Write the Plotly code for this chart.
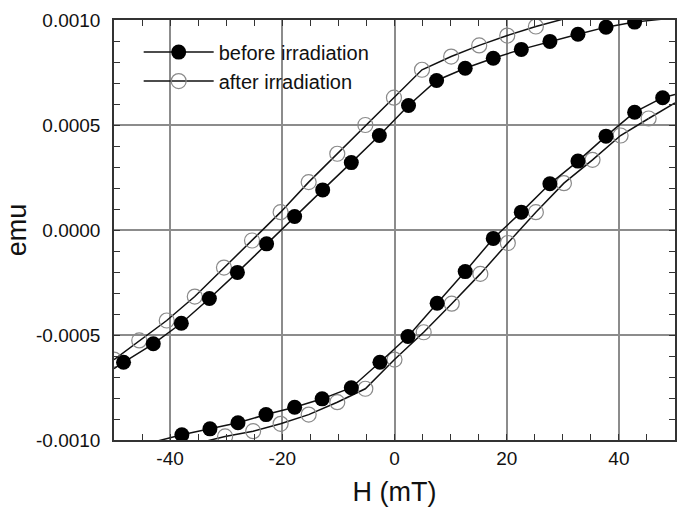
import plotly.graph_objects as go

# ---------------- data ----------------
# H in mT, moment in emu
before_up_x = [-48.3, -43.0, -38.0, -33.0, -28.0, -22.8, -17.8, -12.8, -7.7, -2.7,
               2.5, 7.5, 12.6, 17.6, 22.6, 27.7, 32.7, 37.7, 42.8]
before_up_y = [-6.30e-4, -5.42e-4, -4.44e-4, -3.26e-4, -2.02e-4, -0.66e-4, 0.64e-4, 1.91e-4, 3.21e-4, 4.50e-4,
               5.93e-4, 7.12e-4, 7.70e-4, 8.18e-4, 8.60e-4, 8.98e-4, 9.32e-4, 9.66e-4, 9.90e-4]
before_up_start = [[-50.0], [-6.6e-4]]
before_up_end = [[48.0], [1.005e-3]]

before_low_x = [-37.9, -32.9, -27.9, -22.9, -17.8, -12.9, -7.7, -2.6, 2.4, 7.6,
                12.6, 17.6, 22.6, 27.7, 32.7, 37.7, 42.8, 47.8]
before_low_y = [-9.75e-4, -9.47e-4, -9.18e-4, -8.79e-4, -8.44e-4, -8.04e-4, -7.51e-4, -6.30e-4, -5.07e-4, -3.49e-4,
                -1.98e-4, -0.40e-4, 0.85e-4, 2.20e-4, 3.28e-4, 4.47e-4, 5.61e-4, 6.30e-4]
before_low_start = [[-43.0], [-1.01e-3]]
before_low_end = [[50.0], [6.45e-4]]

after_up_x = [-50.0, -45.5, -40.6, -35.6, -30.4, -25.4, -20.3, -15.3, -10.2, -5.2,
              -0.1, 4.9, 10.1, 15.1, 20.1, 25.2]
after_up_y = [-6.17e-4, -5.26e-4, -4.31e-4, -3.17e-4, -1.79e-4, -0.50e-4, 0.85e-4, 2.28e-4, 3.63e-4, 5.00e-4,
              6.30e-4, 7.63e-4, 8.26e-4, 8.79e-4, 9.26e-4, 9.69e-4]
after_up_start = [[-50.0], [-6.17e-4]]
after_up_end = [[35.0], [1.04e-3]]

after_low_x = [-30.2, -25.2, -20.3, -15.3, -10.2, -5.2, 0.0, 5.2, 10.2, 15.3,
               20.2, 25.2, 30.2, 35.3, 40.3, 45.3]
after_low_y = [-9.83e-4, -9.58e-4, -9.23e-4, -8.79e-4, -8.20e-4, -7.56e-4, -6.17e-4, -4.87e-4, -3.51e-4, -2.09e-4,
               -0.62e-4, 0.85e-4, 2.23e-4, 3.34e-4, 4.50e-4, 5.31e-4]
after_low_start = [[-35.0], [-1.015e-3]]
after_low_end = [[50.0], [6.05e-4]]

x_tickvals = [-40, -20, 0, 20, 40]
x_ticktext = ["-40", "-20", "0", "20", "40"]
y_tickvals = [-0.0010, -0.0005, 0.0, 0.0005, 0.0010]
y_ticktext = ["-0.0010", "-0.0005", "0.0000", "0.0005", "0.0010"]

series_names = ["before irradiation", "after irradiation"]

# ---------------- figure ----------------
FONT = "Liberation Sans, Arial, Helvetica, sans-serif"
LINE = dict(color="#111111", width=1.5)
filled = dict(symbol="circle", size=15, color="#000000", line=dict(width=0))
opened = dict(symbol="circle-open", size=15, color="#8a8a8a", line=dict(width=1.2, color="#8a8a8a"))

fig = go.Figure()


def add_branch(xs, ys, start, end, marker, name, show, rank):
    # line extensions beyond first/last marker
    fig.add_trace(go.Scatter(x=start[0] + [xs[0]], y=start[1] + [ys[0]], mode="lines",
                             line=LINE, showlegend=False, hoverinfo="skip"))
    fig.add_trace(go.Scatter(x=[xs[-1]] + end[0], y=[ys[-1]] + end[1], mode="lines",
                             line=LINE, showlegend=False, hoverinfo="skip"))
    fig.add_trace(go.Scatter(x=xs, y=ys, mode="lines+markers", line=LINE, marker=marker,
                             name=name, legendgroup=name, showlegend=show, legendrank=rank))


add_branch(after_up_x, after_up_y, after_up_start, after_up_end, opened, series_names[1], True, 2)
add_branch(after_low_x, after_low_y, after_low_start, after_low_end, opened, series_names[1], False, 2)
add_branch(before_up_x, before_up_y, before_up_start, before_up_end, filled, series_names[0], True, 1)
add_branch(before_low_x, before_low_y, before_low_start, before_low_end, filled, series_names[0], False, 1)

axis_common = dict(
    showline=True, linecolor="#333333", linewidth=1.5, mirror="ticks",
    ticks="inside", ticklen=6, tickwidth=1.2, tickcolor="#333333",
    showgrid=True, gridcolor="#8c8c8c", gridwidth=1.5, zeroline=False,
    tickfont=dict(family=FONT, size=19, color="#111111"),
)

fig.update_xaxes(
    range=[-50, 50], tickmode="array", tickvals=x_tickvals, ticktext=x_ticktext,
    minor=dict(dtick=5, tick0=0, ticks="inside", ticklen=6, tickwidth=1.2, tickcolor="#333333", showgrid=False),
    title=dict(text="H (mT)", font=dict(family=FONT, size=27, color="#111111"), standoff=16),
    automargin=False,
    **axis_common,
)
fig.update_yaxes(
    range=[-0.0010, 0.0010], tickmode="array", tickvals=y_tickvals, ticktext=y_ticktext,
    minor=dict(dtick=0.0001, tick0=0, ticks="inside", ticklen=6, tickwidth=1.2, tickcolor="#333333", showgrid=False),
    title=dict(text="emu", font=dict(family=FONT, size=27, color="#111111"), standoff=2),
    ticklabelstandoff=8,
    automargin=True,
    **axis_common,
)

fig.update_layout(
    width=678, height=507,
    margin=dict(l=114, r=1, t=20, b=67),
    paper_bgcolor="white", plot_bgcolor="white",
    showlegend=True,
    legend=dict(x=0.044, y=0.97, xanchor="left", yanchor="top", bgcolor="rgba(0,0,0,0)",
                font=dict(family=FONT, size=20, color="#111111"), itemwidth=70,
                tracegroupgap=0),
)

# remove the default 8 px page margin so the figure fills the window exactly
fig.write_html("out.html", config={"displayModeBar": False},
               post_script="document.body.style.margin='0';document.body.style.overflow='hidden';")
